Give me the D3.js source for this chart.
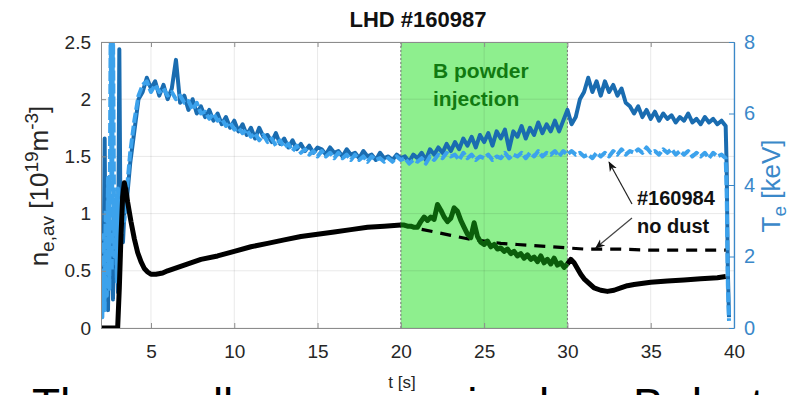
<!DOCTYPE html>
<html>
<head>
<meta charset="utf-8">
<script src="https://cdn.jsdelivr.net/npm/d3@7"></script>
<style>
  body { margin: 0; background: #fff; }
  svg { display: block; font-family: "Liberation Sans", Arial, Helvetica, sans-serif; }
</style>
</head>
<body>
<svg id="chart" width="799" height="395"></svg>
<script>
// ---------- data ----------
// line-averaged density, shot #160987 (10^19 m^-3)
const neT = [2.0, 3.0, 3.1, 3.2, 3.3, 3.4, 3.5, 3.6, 3.8, 4.0, 4.2, 4.4, 4.6, 4.8, 5.0, 5.3, 5.7, 6.0, 7, 8, 9, 10, 11, 12, 13, 14, 15, 16, 17, 18, 19, 20.0];
const neVal = [0, 0, 0.35, 0.8, 1.15, 1.27, 1.2, 1.1, 0.93, 0.78, 0.66, 0.58, 0.52, 0.49, 0.47, 0.47, 0.48, 0.5, 0.55, 0.6, 0.63, 0.67, 0.71, 0.74, 0.77, 0.8, 0.82, 0.84, 0.86, 0.88, 0.89, 0.9];
// density during the boron powder injection window (20-30 s)
const neInjT = [20.0, 20.2, 20.4, 20.6, 20.8, 21.0, 21.2, 21.4, 21.6, 21.8, 22.0, 22.2, 22.4, 22.6, 22.8, 23.0, 23.2, 23.4, 23.6, 23.8, 24.0, 24.2, 24.4, 24.6, 24.8, 25.0, 25.2, 25.4, 25.6, 25.8, 26.0, 26.2, 26.4, 26.6, 26.8, 27.0, 27.2, 27.4, 27.6, 27.8, 28.0, 28.2, 28.4, 28.6, 28.8, 29.0, 29.2, 29.4, 29.6, 29.8, 30.0];
const neInjVal = [0.9, 0.9, 0.89, 0.89, 0.88, 0.88, 0.93, 0.97, 0.94, 0.97, 0.95, 1.08, 1.03, 0.97, 0.93, 0.96, 1.05, 1.02, 0.94, 0.88, 0.82, 0.79, 0.92, 0.8, 0.75, 0.73, 0.76, 0.71, 0.73, 0.69, 0.7, 0.67, 0.69, 0.65, 0.67, 0.63, 0.65, 0.61, 0.64, 0.6, 0.62, 0.58, 0.63, 0.57, 0.6, 0.56, 0.61, 0.55, 0.57, 0.53, 0.56];
// density after the injection
const nePostT = [30.0, 30.2, 30.4, 30.6, 30.8, 31.0, 31.3, 31.6, 32.0, 32.4, 32.8, 33.2, 33.6, 34, 35, 36, 37, 38, 39, 39.5];
const nePostVal = [0.56, 0.6, 0.57, 0.52, 0.47, 0.43, 0.39, 0.35, 0.33, 0.32, 0.33, 0.35, 0.37, 0.38, 0.4, 0.41, 0.42, 0.43, 0.44, 0.45];
// reference shot #160984 without dust
const neRefT = [19, 20, 20.5, 21, 22, 23, 24, 25, 26, 27, 28, 29, 30, 31, 33, 35, 37, 39.5];
const neRefVal = [0.89, 0.9, 0.89, 0.87, 0.84, 0.81, 0.78, 0.76, 0.74, 0.73, 0.72, 0.71, 0.7, 0.69, 0.69, 0.68, 0.68, 0.68];

// electron temperature (keV): breakdown phase
const teEarlyT = [2.0, 2.08, 2.15, 2.22, 2.28, 2.35, 2.42, 2.5, 2.58, 2.65, 2.72, 2.8, 2.88, 2.95, 3.02, 3.1, 3.18, 3.25, 3.32, 3.4];
const teEarly = [0.6, 2.4, 0.9, 5.3, 0.7, 2.6, 0.5, 3.1, 1.2, 2.9, 0.8, 3.4, 1.6, 2.7, 1.0, 7.8, 2.2, 3.5, 2.4, 3.2];
const teRefEarly = [1.4, 0.3, 2.6, 0.5, 3.3, 0.9, 4.2, 1.1, 8.6, 1.6, 8.6, 2.0, 3.6, 1.3, 3.9, 2.1, 3.4, 2.6, 3.8, 3.0];
// main phase, sampled every 0.25 s from 3.5 s
const teStart = 3.5, teStep = 0.25;
const teMain = [
  3.3, 4.6, 5.5, 6.4, 6.6, 7.0, 6.7,
  6.9, 6.5, 6.8, 6.4,  6.7, 7.5, 6.3, 6.5,  6.1, 6.4, 6.0, 6.2,
  5.9, 6.1, 5.8, 6.0,  5.7, 5.9, 5.6, 5.8,  5.5, 5.7, 5.4, 5.6,
  5.3, 5.6, 5.35, 5.4, 5.2, 5.45, 5.15, 5.3, 5.05, 5.25, 5.0, 5.15,
  4.95, 5.1, 4.9, 5.05, 5.0, 4.85, 5.05, 4.9, 4.95, 4.8, 5.0, 4.85,
  4.9, 4.75, 4.95, 4.8, 4.85, 4.7, 4.9, 4.75, 4.8, 4.7, 4.85, 4.75,
  4.8, 4.65, 4.85, 4.75, 4.9, 4.7, 5.0, 4.85, 5.05, 4.9, 5.15, 4.95,
  5.2, 5.0, 5.3, 5.1, 5.35, 5.05, 5.4, 5.2, 5.45, 5.1, 5.5, 5.3,
  5.55, 5.0, 5.5, 5.35, 5.65, 5.3, 5.6, 5.4, 5.75, 5.45, 5.7, 5.5,
  5.8, 5.5, 5.8, 6.1, 5.7, 5.9, 6.4, 6.6, 7.0, 6.6, 6.9, 6.5,
  6.9, 6.6, 6.8, 6.5, 6.7, 6.3, 6.2, 6.0, 6.2, 5.9, 6.1, 5.85,
  6.05, 5.8, 6.0, 5.85, 5.95, 5.75, 5.9, 5.8, 6.0, 5.75, 5.85, 5.7,
  5.9, 5.75, 5.85, 5.7, 5.8, 5.65
];
const teRefMain = [
  3.6, 4.9, 5.8, 6.5, 6.8, 6.9, 6.6,
  6.8, 6.6, 6.7, 6.5,  6.6, 6.4, 6.5, 6.3,  6.35, 6.1, 6.3, 6.0,
  6.05, 5.85, 6.0, 5.8, 5.85, 5.65, 5.75, 5.55, 5.6, 5.45, 5.55, 5.35,
  5.45, 5.25, 5.4, 5.2, 5.3, 5.1, 5.25, 5.05, 5.15, 4.95, 5.1, 4.9,
  5.0, 4.85, 4.95, 4.8, 4.95, 4.8, 4.9, 4.75, 4.9, 4.75, 4.85, 4.7,
  4.85, 4.7, 4.8, 4.65, 4.8, 4.7, 4.75, 4.65, 4.75, 4.65, 4.8, 4.7,
  4.75, 4.6, 4.7, 4.65, 4.75, 4.6, 4.8, 4.7, 4.85, 4.75, 4.9, 4.8,
  4.85, 4.7, 4.9, 4.75, 4.85, 4.7, 4.8, 4.75, 4.85, 4.7, 4.8, 4.75,
  4.9, 4.75, 4.85, 4.8, 4.9, 4.75, 4.9, 4.8, 4.95, 4.8, 4.9, 4.85,
  4.95, 4.8, 4.95, 4.85, 4.95, 4.85, 4.9, 4.8, 4.85, 4.75, 4.9, 4.8,
  4.9, 4.8, 4.95, 4.85, 5.0, 4.85, 4.95, 4.9, 5.0, 4.9, 5.05, 4.9,
  4.95, 4.85, 5.0, 4.9, 5.0, 4.85, 4.95, 4.85, 4.95, 4.8, 4.9, 4.8,
  4.9, 4.75, 4.9, 4.8, 4.85, 4.75
];
// discharge termination
const teTailT = [39.56, 39.63, 39.7];
const teTail = [4.5, 1.6, 0.3];
const teRefTail = [3.8, 1.2, 0.2];

// axes
const xTicks = [5, 10, 15, 20, 25, 30, 35, 40];
const neTicks = [0, 0.5, 1, 1.5, 2, 2.5];
const teTicks = [0, 2, 4, 6, 8];
const injWindow = [20, 30];

// ---------- layout ----------
const svg = d3.select("#chart");
const L = 101, R = 734, T = 42, B = 328;
const x = d3.scaleLinear().domain([2, 40]).range([L, R]);
const yL = d3.scaleLinear().domain([0, 2.5]).range([B, T]);
const yR = d3.scaleLinear().domain([0, 8]).range([B, T]);

const ink = "#262626", frame = "#8c8c8c", blueAxis = "#3a88c9";
const darkBlue = "#1a6cb0", lightBlue = "#3ca2ec";

const defs = svg.append("defs");
defs.append("clipPath").attr("id", "plot")
  .append("rect").attr("x", L).attr("y", T).attr("width", R - L).attr("height", B - T);
defs.append("marker").attr("id", "head").attr("viewBox", "0 0 10 10")
  .attr("refX", 9).attr("refY", 5).attr("markerWidth", 10).attr("markerHeight", 10)
  .attr("markerUnits", "userSpaceOnUse").attr("orient", "auto")
  .append("path").attr("d", "M0,1 L10,5 L0,9 L3,5 Z").attr("fill", "#111");

// boron powder injection window
svg.append("rect")
  .attr("x", x(injWindow[0])).attr("y", T)
  .attr("width", x(injWindow[1]) - x(injWindow[0])).attr("height", B - T)
  .attr("fill", "#8eef8e");

// grid
const grid = svg.append("g").attr("stroke", "#000").attr("stroke-opacity", 0.09).attr("stroke-width", 1);
xTicks.forEach(t => grid.append("line").attr("x1", x(t)).attr("x2", x(t)).attr("y1", T).attr("y2", B));
neTicks.forEach(v => grid.append("line").attr("x1", L).attr("x2", R).attr("y1", yL(v)).attr("y2", yL(v)));

// window borders
injWindow.forEach(t => svg.append("line")
  .attr("x1", x(t)).attr("x2", x(t)).attr("y1", T).attr("y2", B)
  .attr("stroke", "#7a7a7a").attr("stroke-width", 1).attr("stroke-dasharray", "2,2"));

// ---------- series ----------
const plot = svg.append("g").attr("clip-path", "url(#plot)");
const lineL = d3.line().x(d => x(d[0])).y(d => yL(d[1]));
const lineR = d3.line().x(d => x(d[0])).y(d => yR(d[1]));

const teTimes = teMain.map((_, i) => teStart + i * teStep);
const zipT = (ts, vs) => ts.map((t, i) => [t, vs[i]]);
const teShot = zipT(teEarlyT, teEarly).concat(zipT(teTimes, teMain), zipT(teTailT, teTail));
const teRef = zipT(teEarlyT, teRefEarly).concat(zipT(teTimes, teRefMain), zipT(teTailT, teRefTail));

plot.append("path").datum(teShot).attr("d", lineR)
  .attr("fill", "none").attr("stroke", darkBlue).attr("stroke-width", 4).attr("stroke-linejoin", "round");
plot.append("path").datum(teRef).attr("d", lineR)
  .attr("fill", "none").attr("stroke", lightBlue).attr("stroke-width", 4)
  .attr("stroke-dasharray", "10,3").attr("stroke-linejoin", "round");

plot.append("path").datum(zipT(neRefT, neRefVal)).attr("d", lineL)
  .attr("fill", "none").attr("stroke", "#000").attr("stroke-width", 3.2).attr("stroke-dasharray", "11,8");
plot.append("path").datum(zipT(neT, neVal)).attr("d", lineL)
  .attr("fill", "none").attr("stroke", "#000").attr("stroke-width", 5).attr("stroke-linejoin", "round");
plot.append("path").datum(zipT(nePostT, nePostVal)).attr("d", lineL)
  .attr("fill", "none").attr("stroke", "#000").attr("stroke-width", 5).attr("stroke-linejoin", "round");
plot.append("path").datum(zipT(neInjT, neInjVal)).attr("d", lineL)
  .attr("fill", "none").attr("stroke", "#0b5e0b").attr("stroke-width", 5).attr("stroke-linejoin", "round");

// ---------- axes ----------
const fs = 19;
const axBottom = svg.append("g").attr("transform", `translate(0,${B})`)
  .call(d3.axisBottom(x).tickValues(xTicks).tickSize(-5).tickPadding(17).tickSizeOuter(0));
const axTop = svg.append("g").attr("transform", `translate(0,${T})`)
  .call(d3.axisTop(x).tickValues(xTicks).tickSize(-5).tickFormat("").tickSizeOuter(0));
const axLeft = svg.append("g").attr("transform", `translate(${L},0)`)
  .call(d3.axisLeft(yL).tickValues(neTicks).tickSize(-5).tickPadding(10).tickSizeOuter(0).tickFormat(d3.format("")));
const axRight = svg.append("g").attr("transform", `translate(${R},0)`)
  .call(d3.axisRight(yR).tickValues(teTicks).tickSize(-5).tickPadding(10).tickSizeOuter(0));

[axBottom, axTop, axLeft].forEach(g => {
  g.select(".domain").attr("stroke", frame);
  g.selectAll(".tick line").attr("stroke", frame);
  g.selectAll("text").attr("fill", ink).attr("font-size", fs).attr("font-family", null);
});
axRight.select(".domain").attr("stroke", blueAxis).attr("stroke-width", 1.3);
axRight.selectAll(".tick line").attr("stroke", blueAxis);
axRight.selectAll("text").attr("fill", blueAxis).attr("font-size", fs + 1).attr("font-family", null);

// ---------- labels ----------
svg.append("text").attr("x", 418).attr("y", 27).attr("text-anchor", "middle")
  .attr("font-weight", "bold").attr("font-size", 22).attr("fill", "#111").text("LHD #160987");

svg.append("text").attr("x", 402).attr("y", 388).attr("text-anchor", "middle")
  .attr("font-size", 17).attr("fill", ink).text("t [s]");

const yLab = svg.append("text").attr("transform", "translate(48,186) rotate(-90)")
  .attr("text-anchor", "middle").attr("font-size", 26).attr("fill", ink);
yLab.append("tspan").text("n");
yLab.append("tspan").attr("font-size", 19).attr("dy", 6).text("e,av");
yLab.append("tspan").attr("dy", -6).text(" [10");
yLab.append("tspan").attr("font-size", 19).attr("dy", -10).text("19");
yLab.append("tspan").attr("dy", 10).text("m");
yLab.append("tspan").attr("font-size", 19).attr("dy", -10).text("-3");
yLab.append("tspan").attr("dy", 10).text("]");

const rLab = svg.append("text").attr("transform", "translate(780,186) rotate(-90)")
  .attr("text-anchor", "middle").attr("font-size", 26).attr("fill", blueAxis);
rLab.append("tspan").text("T");
rLab.append("tspan").attr("font-size", 19).attr("dy", 6).text("e");
rLab.append("tspan").attr("dy", -6).text(" [keV]");

// injection window caption
const cap = svg.append("g").attr("font-weight", "bold").attr("font-size", 21).attr("fill", "#117a11");
cap.append("text").attr("x", 433).attr("y", 78).text("B powder");
cap.append("text").attr("x", 433).attr("y", 106).text("injection");

// annotation of the reference shot
const ann = svg.append("g").attr("font-weight", "bold").attr("font-size", 20).attr("fill", "#111");
ann.append("text").attr("x", 637).attr("y", 205).text("#160984");
ann.append("text").attr("x", 637).attr("y", 233).text("no dust");
svg.append("line").attr("x1", 632).attr("y1", 204).attr("x2", x(32.5)).attr("y2", yR(4.75) + 4)
  .attr("stroke", "#222").attr("stroke-width", 1.2).attr("marker-end", "url(#head)");
svg.append("line").attr("x1", 632).attr("y1", 218).attr("x2", x(31.7)).attr("y2", yL(0.69) - 1)
  .attr("stroke", "#444").attr("stroke-width", 1.2).attr("marker-end", "url(#head)");

// caption text running below the figure
const foot = svg.append("g").attr("font-size", 46).attr("fill", "#000");
foot.append("text").attr("x", 32).attr("y", 421).text("The");
foot.append("text").attr("x", 126).attr("y", 421).text("small");
foot.append("text").attr("x", 452).attr("y", 421).text("rise by");
foot.append("text").attr("x", 633).attr("y", 421).text("B dust");
</script>
</body>
</html>
